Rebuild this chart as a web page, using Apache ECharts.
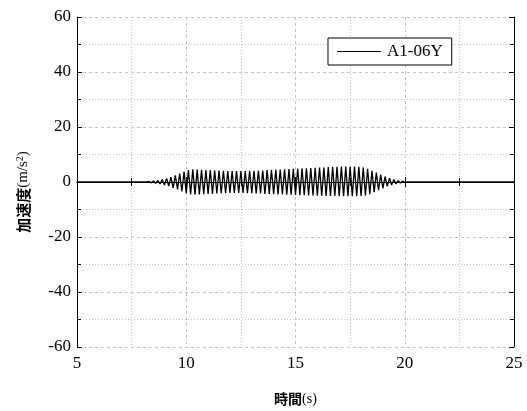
<!DOCTYPE html>
<html>
<head>
<meta charset="utf-8">
<script src="https://cdn.jsdelivr.net/npm/echarts@6/dist/echarts.min.js"></script>
<style>
  html, body { margin: 0; padding: 0; background: #fff; }
  #chart { width: 527px; height: 411px; }
</style>
</head>
<body>
<div id="chart"></div>
<script>
// x-axis ticks (s) and y-axis ticks (m/s^2)
const xTicks = [5, 10, 15, 20, 25];
const yTicks = [-60, -40, -20, 0, 20, 40, 60];
const seriesName = "A1-06Y";

// quiet part before and after the shaking
const leadIn = [[5, 0], [8.2, 0]];
const leadOut = [[20.1, 0], [25, 0]];

// peaks and troughs of the record: [time, acceleration]
const peaks = [
  [8.3, 0.2], [8.4, -0.3], [8.5, 0.4], [8.6, -0.5], [8.7, 0.6], [8.8, -0.7],
  [8.9, 0.9], [9.0, -1.1], [9.1, 1.3], [9.2, -1.5], [9.3, 1.8], [9.4, -2.1],
  [9.5, 2.4], [9.6, -2.7], [9.7, 3.1], [9.8, -3.4], [9.9, 3.8], [10.0, -4.1],
  [10.1, 4.3], [10.2, -4.5], [10.3, 4.6], [10.4, -4.6], [10.5, 4.5], [10.6, -4.5],
  [10.7, 4.4], [10.8, -4.4], [10.9, 4.3], [11.0, -4.3], [11.1, 4.3], [11.2, -4.3],
  [11.3, 4.2], [11.4, -4.2], [11.5, 4.2], [11.6, -4.1], [11.7, 4.1], [11.8, -4.1],
  [11.9, 4.0], [12.0, -4.0], [12.1, 4.0], [12.2, -4.0], [12.3, 4.0], [12.4, -4.0],
  [12.5, 4.0], [12.6, -4.0], [12.7, 4.0], [12.8, -4.1], [12.9, 4.1], [13.0, -4.1],
  [13.1, 4.1], [13.2, -4.2], [13.3, 4.2], [13.4, -4.2], [13.5, 4.2], [13.6, -4.3],
  [13.7, 4.3], [13.8, -4.3], [13.9, 4.4], [14.0, -4.4], [14.1, 4.5], [14.2, -4.5],
  [14.3, 4.5], [14.4, -4.5], [14.5, 4.6], [14.6, -4.6], [14.7, 4.7], [14.8, -4.6],
  [14.9, 4.8], [15.0, -4.7], [15.1, 4.9], [15.2, -4.8], [15.3, 5.0], [15.4, -4.8],
  [15.5, 5.0], [15.6, -4.9], [15.7, 5.1], [15.8, -4.9], [15.9, 5.2], [16.0, -5.0],
  [16.1, 5.3], [16.2, -5.0], [16.3, 5.3], [16.4, -5.1], [16.5, 5.4], [16.6, -5.1],
  [16.7, 5.5], [16.8, -5.1], [16.9, 5.5], [17.0, -5.2], [17.1, 5.6], [17.2, -5.2],
  [17.3, 5.6], [17.4, -5.2], [17.5, 5.6], [17.6, -5.2], [17.7, 5.6], [17.8, -5.2],
  [17.9, 5.5], [18.0, -5.1], [18.1, 5.3], [18.2, -4.9], [18.3, 4.8], [18.4, -4.4],
  [18.5, 4.1], [18.6, -3.7], [18.7, 3.4], [18.8, -3.0], [18.9, 2.7], [19.0, -2.3],
  [19.1, 2.0], [19.2, -1.6], [19.3, 1.4], [19.4, -1.1], [19.5, 0.9], [19.6, -0.7],
  [19.7, 0.5], [19.8, -0.4], [19.9, 0.3], [20.0, -0.1]
];

const chart = echarts.init(document.getElementById("chart"));
const serif = "'Liberation Serif', 'Times New Roman', serif";
const cjk = "'Noto Sans CJK JP', 'Noto Sans CJK SC', sans-serif";
const gridColor = "#c4c4c4";

// mirrored frame axes (top / right) with inward ticks, no labels
const frameTicks = {
  axisLine: { show: true, lineStyle: { color: "#000", width: 1 } },
  axisTick: { show: true, inside: true, length: 5, lineStyle: { color: "#000" } },
  minorTick: { show: true, splitNumber: 2, length: 4, lineStyle: { color: "#000" } },
  axisLabel: { show: false },
  splitLine: { show: false },
};

chart.setOption({
  animation: false,
  backgroundColor: "#fff",
  grid: { left: 77, right: 13, top: 17, bottom: 64 },
  legend: {
    left: 328,
    top: 38,
    padding: [5, 9, 5, 9],
    backgroundColor: "#fff",
    borderColor: "#000",
    borderWidth: 1,
    borderRadius: 0,
    itemWidth: 44,
    itemHeight: 1,
    itemGap: 0,
    icon: "rect",
    textStyle: { fontFamily: serif, fontSize: 17, color: "#000", padding: [0, 0, 0, 1] },
    data: [seriesName],
  },
  xAxis: [
    {
      type: "value",
      min: xTicks[0],
      max: xTicks[xTicks.length - 1],
      interval: 5,
      axisLine: { lineStyle: { color: "#000", width: 1 } },
      axisTick: { inside: true, length: 5, lineStyle: { color: "#000" } },
      minorTick: { show: true, splitNumber: 2, length: 4, lineStyle: { color: "#000" } },
      axisLabel: { color: "#000", fontFamily: serif, fontSize: 17, margin: 8 },
      splitLine: { show: true, lineStyle: { color: gridColor, type: [3, 3] } },
      minorSplitLine: { show: true, lineStyle: { color: gridColor, type: [1, 2] } },
      name: "{a|時間}{b|(s)}",
      nameLocation: "middle",
      nameGap: 45,
      nameTextStyle: {
        rich: {
          a: { fontFamily: cjk, fontSize: 14, fontWeight: "bold", color: "#000" },
          b: { fontFamily: serif, fontSize: 14, color: "#000" },
        },
      },
    },
    Object.assign({
      type: "value",
      position: "top",
      min: xTicks[0],
      max: xTicks[xTicks.length - 1],
      interval: 5,
    }, frameTicks),
  ],
  yAxis: [
    {
      type: "value",
      min: yTicks[0],
      max: yTicks[yTicks.length - 1],
      interval: 20,
      axisLine: { lineStyle: { color: "#000", width: 1 } },
      axisTick: { inside: true, length: 5, lineStyle: { color: "#000" } },
      minorTick: { show: true, splitNumber: 2, length: 4, lineStyle: { color: "#000" } },
      axisLabel: { color: "#000", fontFamily: serif, fontSize: 17, margin: 6 },
      splitLine: { show: true, lineStyle: { color: gridColor, type: [3, 3] } },
      minorSplitLine: { show: true, lineStyle: { color: gridColor, type: [1, 2] } },
      name: "{a|加速度}{b|(m/s}{c|2}{b|)}",
      nameLocation: "middle",
      nameGap: 45,
      nameTextStyle: {
        padding: [0, 20, 0, 0],
        rich: {
          a: { fontFamily: cjk, fontSize: 15, fontWeight: "bold", color: "#000" },
          b: { fontFamily: serif, fontSize: 15, color: "#000" },
          c: { fontFamily: serif, fontSize: 10, color: "#000", verticalAlign: "top", padding: [0, 0, 7, 0] },
        },
      },
    },
    Object.assign({
      type: "value",
      position: "right",
      min: yTicks[0],
      max: yTicks[yTicks.length - 1],
      interval: 20,
    }, frameTicks),
  ],
  series: [
    {
      name: seriesName,
      type: "line",
      showSymbol: false,
      symbol: "none",
      color: "#000",
      lineStyle: { color: "#000", width: 1.3 },
      data: leadIn.concat(peaks, leadOut),
    },
  ],
});
</script>
</body>
</html>
